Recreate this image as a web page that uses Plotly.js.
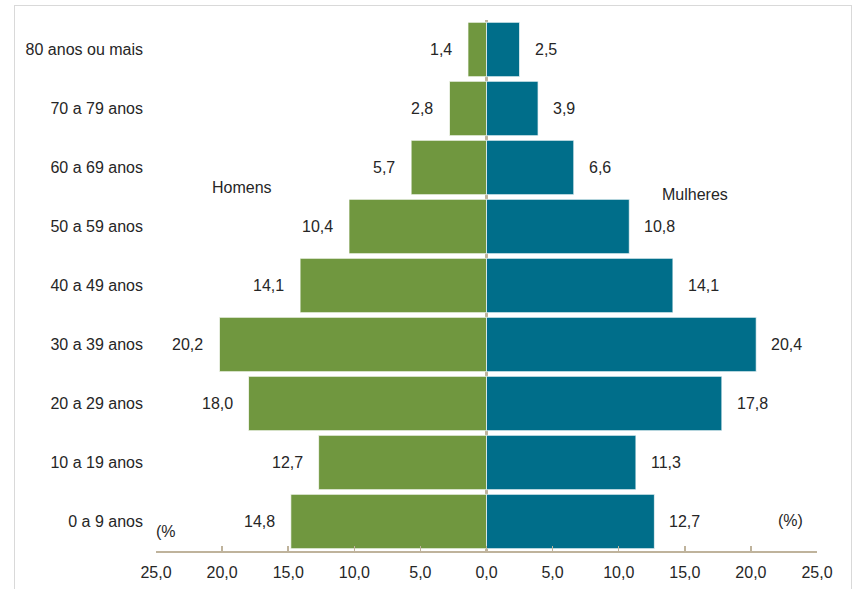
<!DOCTYPE html>
<html>
<head>
<meta charset="utf-8">
<script src="https://cdn.plot.ly/plotly-3.0.1.min.js"></script>
<style>
  html, body { margin: 0; padding: 0; background: #ffffff; }
  #wrap { position: relative; width: 856px; height: 589px; overflow: hidden; }
  #chart { width: 856px; height: 589px; }
  #frame { position: absolute; left: 14px; top: 5px; width: 836px; height: 620px;
           border: 1px solid #d9d9d9; pointer-events: none; }
</style>
</head>
<body>
<div id="wrap">
  <div id="chart"></div>
  <div id="frame"></div>
</div>
<script>
// Faixas etárias (de baixo para cima)
const faixas = ["0 a 9 anos", "10 a 19 anos", "20 a 29 anos", "30 a 39 anos",
                "40 a 49 anos", "50 a 59 anos", "60 a 69 anos", "70 a 79 anos",
                "80 anos ou mais"];
// Distribuição percentual por sexo
const homens   = [14.8, 12.7, 18.0, 20.2, 14.1, 10.4, 5.7, 2.8, 1.4];
const mulheres = [12.7, 11.3, 17.8, 20.4, 14.1, 10.8, 6.6, 3.9, 2.5];
// Marcas do eixo horizontal
const marcasX = [-25, -20, -15, -10, -5, 0, 5, 10, 15, 20, 25];

const fmt = v => v.toFixed(1).replace('.', ',');
const verde = '#70973f';
const azul = '#006e8a';
const bege = '#bfb39c';
const texto = '#262626';
const fonte = 'Liberation Sans, Arial, sans-serif';

const traces = [
  {
    type: 'bar', orientation: 'h', name: 'Homens',
    y: faixas, x: homens.map(v => -v),
    marker: { color: verde, line: { color: 'rgba(255,255,255,0.7)', width: 1 } },
    hoverinfo: 'skip'
  },
  {
    type: 'bar', orientation: 'h', name: 'Mulheres',
    y: faixas, x: mulheres,
    marker: { color: azul, line: { color: 'rgba(255,255,255,0.7)', width: 1 } },
    hoverinfo: 'skip'
  }
];

const annotations = [];
faixas.forEach((f, i) => {
  annotations.push({
    x: -homens[i], y: f, xref: 'x', yref: 'y', text: fmt(homens[i]),
    showarrow: false, xanchor: 'right', xshift: -14,
    font: { family: fonte, size: 16, color: texto }
  });
  annotations.push({
    x: mulheres[i], y: f, xref: 'x', yref: 'y', text: fmt(mulheres[i]),
    showarrow: false, xanchor: 'left', xshift: 13,
    font: { family: fonte, size: 16, color: texto }
  });
});
annotations.push(
  { x: -18.5, y: 5.66, xref: 'x', yref: 'y', text: 'Homens', showarrow: false,
    font: { family: fonte, size: 16, color: texto } },
  { x: 15.8, y: 5.54, xref: 'x', yref: 'y', text: 'Mulheres', showarrow: false,
    font: { family: fonte, size: 16, color: texto } },
  { x: -25, y: -0.17, xref: 'x', yref: 'y', text: '(%', showarrow: false, xanchor: 'left',
    xshift: -2, font: { family: fonte, size: 16, color: texto } },
  { x: 23.0, y: 0.01, xref: 'x', yref: 'y', text: '(%)', showarrow: false, xanchor: 'center',
    font: { family: fonte, size: 16, color: texto } }
);

const layout = {
  width: 856, height: 589,
  margin: { l: 156, r: 39, t: 20, b: 38 },
  paper_bgcolor: '#ffffff', plot_bgcolor: '#ffffff',
  barmode: 'relative', bargap: 0.08,
  showlegend: false,
  font: { family: fonte, size: 16, color: texto },
  xaxis: {
    range: [-25, 25], fixedrange: true,
    tickmode: 'array', tickvals: marcasX,
    ticktext: marcasX.map(v => fmt(Math.abs(v))),
    ticks: 'inside', ticklen: 5, tickwidth: 1.5, tickcolor: bege,
    showline: true, linecolor: bege, linewidth: 2,
    showgrid: false,
    zeroline: true, zerolinecolor: bege, zerolinewidth: 2.5,
    layer: 'above traces',
    ticklabelstandoff: 6,
    tickfont: { family: fonte, size: 16, color: texto }
  },
  yaxis: {
    type: 'category', categoryorder: 'array', categoryarray: faixas,
    range: [-0.5, faixas.length - 0.5], fixedrange: true,
    showgrid: false, zeroline: false, showline: false, ticks: '',
    ticklabelstandoff: 12,
    tickfont: { family: fonte, size: 16, color: texto }
  },
  annotations: annotations
};

Plotly.newPlot('chart', traces, layout, { displayModeBar: false, staticPlot: true });
</script>
</body>
</html>
